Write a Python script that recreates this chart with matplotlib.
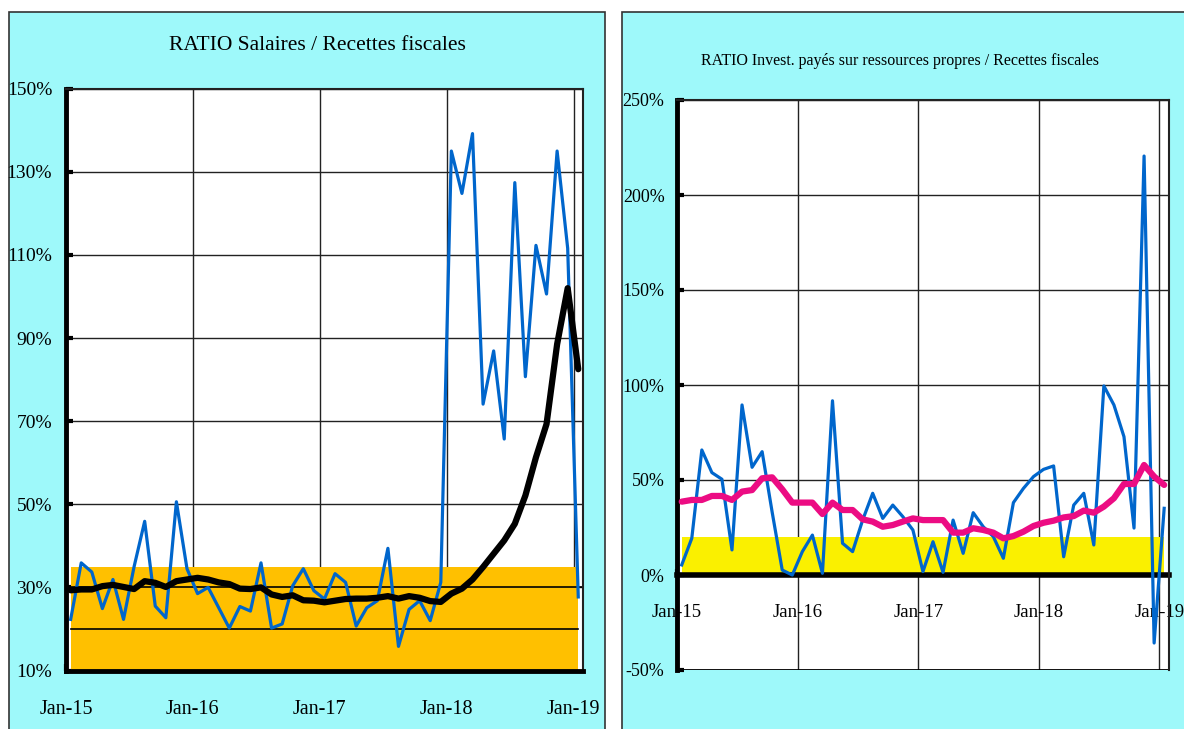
import numpy as np
import matplotlib.pyplot as plt
from matplotlib.patches import Rectangle
from matplotlib.ticker import FuncFormatter

# monthly values Jan-15 .. Jan-19 (49 months)
annees = ['Jan-15', 'Jan-16', 'Jan-17', 'Jan-18', 'Jan-19']

salaires = [22.3, 35.9, 33.7, 24.9, 31.9, 22.3, 35.0, 45.9, 25.5, 22.7,
            50.6, 34.5, 28.5, 30.0, 25.1, 20.2, 25.4, 24.3, 35.9, 20.2,
            21.2, 30.4, 34.5, 29.2, 27.2, 33.3, 31.2, 20.7, 25.1, 26.8,
            39.4, 15.8, 24.7, 26.8, 22.0, 31.2, 135.0, 124.8, 139.2, 74.1,
            86.9, 65.7, 127.4, 80.7, 112.3, 100.6, 135.0, 111.6, 27.7]
salaires_moy = [29.3, 29.5, 29.5, 30.3, 30.6, 30.1, 29.6, 31.5, 31.1, 30.1,
                31.5, 31.9, 32.3, 31.9, 31.2, 30.8, 29.7, 29.6, 30.0, 28.3,
                27.7, 28.1, 26.9, 26.8, 26.4, 26.8, 27.2, 27.3, 27.3, 27.5,
                27.9, 27.3, 27.9, 27.5, 26.7, 26.5, 28.5, 29.7, 31.9, 34.9,
                38.1, 41.3, 45.3, 52.1, 61.3, 69.3, 88.5, 102.0, 82.5]
zone_sal = (10, 35)
seuil_sal = 20

invest = [5.3, 19.3, 65.8, 53.9, 50.4, 13.2, 89.5, 56.7, 64.9, 33.0,
          2.6, 0.0, 12.3, 21.0, 0.9, 91.7, 16.7, 12.3, 28.9, 43.0,
          29.8, 36.8, 30.7, 23.7, 1.8, 17.5, 1.4, 28.9, 11.4, 32.8,
          25.4, 20.2, 8.8, 38.1, 45.6, 51.8, 55.6, 57.4, 9.6, 36.8,
          43.0, 15.8, 99.5, 89.5, 72.8, 24.7, 220.5, -35.8, 35.1]
invest_moy = [38.6, 39.5, 39.5, 41.6, 41.6, 39.5, 43.9, 44.7, 50.9, 51.4,
              45.1, 38.1, 38.1, 38.1, 32.1, 38.1, 34.2, 34.2, 29.3, 28.1,
              25.4, 26.3, 28.1, 29.8, 28.9, 28.9, 28.9, 22.3, 22.3, 24.6,
              23.7, 22.3, 19.3, 20.5, 22.8, 25.8, 27.5, 28.6, 30.3, 31.0,
              33.9, 32.8, 36.0, 40.4, 47.9, 47.9, 57.9, 51.8, 47.4]
zone_inv = (0, 20)

W, H = 1184, 729
cyan = '#9ef9fa'
blue = '#0066cc'
fnt = 'Liberation Serif'

fig = plt.figure(figsize=(W / 100, H / 100), dpi=100)
fig.patch.set_facecolor('white')

# cyan chart areas
for x0, x1 in [(9, 605), (622, 1190)]:
    fig.patches.append(Rectangle((x0 / W, -0.02), (x1 - x0) / W, 1 - 12 / H + 0.02,
                                 transform=fig.transFigure, facecolor=cyan,
                                 edgecolor='#333333', lw=1.2, zorder=-5))

months = np.arange(len(salaires)) + 0.44
pct = FuncFormatter(lambda v, p: f"{v:.0f}%")

# ---------------- left chart ----------------
ax1 = fig.add_axes([66 / W, 1 - 670.5 / H, (582.7 - 66) / W, (670.5 - 88.7) / H])
ax1.set_facecolor('white')
ax1.set_xlim(0, 48.86)
ax1.set_ylim(10, 150)
ax1.set_yticks(np.arange(10, 151, 20))
ax1.yaxis.set_major_formatter(pct)
ax1.set_xticks(np.arange(0, 49, 12))
ax1.set_xticklabels(annees)
ax1.grid(True, color='#222222', lw=1.0, zorder=0)
ax1.set_axisbelow(True)
ax1.fill_between(months, zone_sal[0], zone_sal[1], color='#ffc000', lw=0, zorder=1)
ax1.axhline(30, color='black', lw=1.2, zorder=1.5)
ax1.plot(months, [seuil_sal] * len(months), color='black', lw=1.2, zorder=1.5)
ax1.plot(months, salaires, color=blue, lw=2.3, zorder=2)
ax1.plot(months, salaires_moy, color='black', lw=4.5, zorder=3,
         solid_joinstyle='round', solid_capstyle='round')
for s in ['left', 'bottom']:
    ax1.spines[s].set_linewidth(3.5)
for s in ['top', 'right']:
    ax1.spines[s].set_linewidth(1.5)
    ax1.spines[s].set_color('#222222')
ax1.tick_params(axis='x', direction='in', length=5, width=3, pad=21, labelsize=14.5)
ax1.tick_params(axis='y', direction='in', length=5, width=3, pad=10, labelsize=14)
for lab in ax1.get_xticklabels() + ax1.get_yticklabels():
    lab.set_family(fnt)

fig.text(317 / W, 1 - 46 / H, 'RATIO Salaires / Recettes fiscales', family=fnt,
         fontsize=15.5, ha='center', va='center')

# ---------------- right chart ----------------
ax2 = fig.add_axes([677 / W, 1 - 670 / H, (1169 - 677) / W, 570 / H])
ax2.set_facecolor('white')
ax2.set_xlim(0, 48.95)
ax2.set_ylim(-50, 250)
ax2.set_yticks(np.arange(-50, 251, 50))
ax2.yaxis.set_major_formatter(pct)
ax2.set_xticks(np.arange(0, 49, 12))
ax2.set_xticklabels(annees)
ax2.grid(True, color='#222222', lw=1.0, zorder=0)
ax2.set_axisbelow(True)
months2 = np.arange(len(invest)) + 0.47
ax2.fill_between(months2, zone_inv[0], zone_inv[1], color='#faf000', lw=0, zorder=1)
ax2.axhline(-50, color='black', lw=2, zorder=1.5)
ax2.spines['bottom'].set_position(('data', 0))
ax2.spines['bottom'].set_linewidth(4)
ax2.spines['bottom'].set_zorder(1.6)
ax2.plot(months2, invest, color=blue, lw=2.3, zorder=2)
ax2.plot(months2, invest_moy, color='#ec0c83', lw=4.5, zorder=3,
         solid_joinstyle='round', solid_capstyle='round')
ax2.spines['left'].set_linewidth(3.5)
for s in ['top', 'right']:
    ax2.spines[s].set_linewidth(1.5)
    ax2.spines[s].set_color('#222222')
ax2.tick_params(axis='x', direction='in', length=4, width=3, pad=21, labelsize=13.5)
ax2.tick_params(axis='y', direction='in', length=5, width=3, pad=9, labelsize=13)
for lab in ax2.get_xticklabels() + ax2.get_yticklabels():
    lab.set_family(fnt)

fig.text(900 / W, 1 - 61 / H,
         'RATIO Invest. payés sur ressources propres / Recettes fiscales',
         family=fnt, fontsize=11.5, ha='center', va='center')

fig.savefig('out.png', dpi=100)
